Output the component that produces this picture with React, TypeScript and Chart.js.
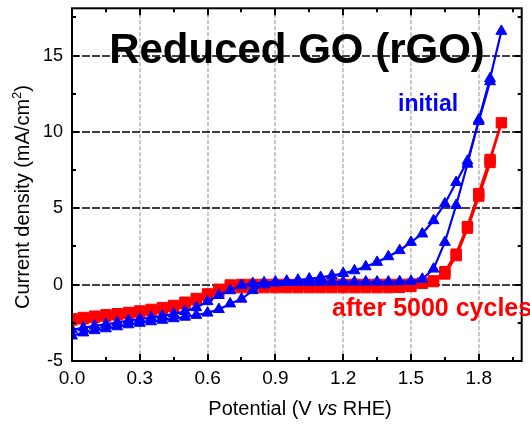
import React, { useEffect, useRef } from 'react';
import { Chart, registerables } from 'chart.js';

Chart.register(...registerables);

// Potential steps (V vs RHE) for the anodic sweep and the return sweep
const potentialSweep = [
  0.0, 0.05, 0.1, 0.15, 0.2, 0.25, 0.3, 0.35, 0.4, 0.45, 0.5, 0.55, 0.6,
  0.65, 0.7, 0.75, 0.8, 0.85, 0.9, 0.95, 1.0, 1.05, 1.1, 1.15, 1.2, 1.25,
  1.3, 1.35, 1.4, 1.45, 1.5, 1.55, 1.6, 1.65, 1.7, 1.75, 1.8, 1.85, 1.9,
];
const potentialReturn = [
  1.85, 1.8, 1.75, 1.7, 1.65, 1.6, 1.55, 1.5, 1.45, 1.4, 1.35, 1.3, 1.25,
  1.2, 1.15, 1.1, 1.05, 1.0, 0.95, 0.9, 0.85, 0.8, 0.75, 0.7, 0.65, 0.6,
  0.55, 0.5, 0.45, 0.4, 0.35, 0.3, 0.25, 0.2, 0.15, 0.1, 0.05, 0.0,
];

// Current density (mA/cm2), initial electrode
const initialSweep = [
  -3.35, -3.15, -3.0, -2.88, -2.75, -2.62, -2.52, -2.42, -2.32, -2.22, -2.12,
  -2.0, -1.85, -1.62, -1.25, -0.94, -0.38, 0.0, 0.12, 0.15, 0.16, 0.17, 0.17,
  0.18, 0.18, 0.18, 0.18, 0.18, 0.18, 0.2, 0.22, 0.37, 1.03, 2.78, 5.2, 7.9,
  10.8, 13.5, 16.6,
];
const initialReturn = [
  13.3, 10.7, 8.1, 6.7, 5.3, 4.2, 3.33, 2.78, 2.24, 1.84, 1.47, 1.18, 0.92,
  0.74, 0.59, 0.48, 0.38, 0.3, 0.24, 0.18, 0.13, 0.08, -0.05, -0.38, -0.7,
  -1.1, -1.5, -1.75, -1.92, -2.05, -2.15, -2.25, -2.35, -2.48, -2.6, -2.7,
  -2.82, -2.95,
];

// Current density (mA/cm2), after 5000 cycles
const cycledSweep = [
  -2.32, -2.24, -2.15, -2.06, -1.98, -1.9, -1.8, -1.7, -1.58, -1.45, -1.25,
  -1.0, -0.72, -0.45, -0.25, -0.2, -0.2, -0.2, -0.2, -0.2, -0.2, -0.2, -0.2,
  -0.2, -0.2, -0.2, -0.2, -0.2, -0.2, -0.18, -0.12, 0.1, 0.2, 0.85, 2.0, 3.8,
  5.97, 8.2, 10.6,
];
const cycledReturn = [
  8.0, 5.8, 3.7, 1.9, 0.7, 0.25, 0.1, 0.04, 0.02, 0.02, 0.02, 0.02, 0.02,
  0.02, 0.02, 0.02, 0.02, 0.02, 0.02, 0.02, 0.02, 0.02, 0.02, -0.02, -0.3,
  -0.6, -0.9, -1.15, -1.36, -1.5, -1.62, -1.72, -1.82, -1.9, -1.97, -2.06,
  -2.15, -2.24,
];

const xTickValues = [0, 0.3, 0.6, 0.9, 1.2, 1.5, 1.8];
const xMinorValues = [0.15, 0.45, 0.75, 1.05, 1.35, 1.65, 1.95];
const yTickValues = [-5, 0, 5, 10, 15];
const yMinorValues = [-2.5, 2.5, 7.5, 12.5, 17.5];

const X_MIN = 0;
const X_MAX = 1.99;
const Y_MIN = -5;
const Y_MAX = 18.1;

const FONT = "'Liberation Sans', Arial, sans-serif";
const BLUE = '#0000ff';
const RED = '#ff0000';

const toPoints = (xs: number[], ys: number[]) =>
  xs.map((x, i) => ({ x, y: ys[i] }));

const frameAndLabels = {
  id: 'frameAndLabels',
  beforeDatasetsDraw(chart: any) {
    const { ctx, chartArea: a, scales } = chart;
    const xs = scales.x;
    const ys = scales.y;
    ctx.save();
    // light grey dashed verticals
    ctx.strokeStyle = '#c6c6c6';
    ctx.lineWidth = 2;
    ctx.setLineDash([4, 2]);
    for (const v of xTickValues) {
      if (v <= X_MIN) continue;
      const px = Math.round(xs.getPixelForValue(v));
      ctx.beginPath();
      ctx.moveTo(px, a.top);
      ctx.lineTo(px, a.bottom);
      ctx.stroke();
    }
    // black dashed horizontals
    ctx.strokeStyle = '#000';
    ctx.lineWidth = 1.6;
    ctx.setLineDash([8, 2]);
    for (const v of yTickValues) {
      if (v <= Y_MIN) continue;
      const py = Math.round(ys.getPixelForValue(v));
      ctx.beginPath();
      ctx.moveTo(a.left, py);
      ctx.lineTo(a.right, py);
      ctx.stroke();
    }
    ctx.restore();
  },
  afterDatasetsDraw(chart: any) {
    const { ctx, chartArea: a, scales } = chart;
    const xs = scales.x;
    const ys = scales.y;
    ctx.save();
    ctx.setLineDash([]);
    ctx.strokeStyle = '#000';
    ctx.lineWidth = 2;
    ctx.strokeRect(a.left, a.top, a.right - a.left, a.bottom - a.top);

    const major = 7;
    const minor = 4;
    ctx.beginPath();
    const xMark = (v: number, len: number) => {
      const px = Math.round(xs.getPixelForValue(v));
      ctx.moveTo(px, a.bottom);
      ctx.lineTo(px, a.bottom - len);
      ctx.moveTo(px, a.top);
      ctx.lineTo(px, a.top + len);
    };
    const yMark = (v: number, len: number) => {
      const py = Math.round(ys.getPixelForValue(v));
      ctx.moveTo(a.left, py);
      ctx.lineTo(a.left + len, py);
      ctx.moveTo(a.right, py);
      ctx.lineTo(a.right - len, py);
    };
    xTickValues.forEach((v) => v > X_MIN && xMark(v, major));
    xMinorValues.forEach((v) => xMark(v, minor));
    yTickValues.forEach((v) => v > Y_MIN && yMark(v, major));
    yMinorValues.forEach((v) => yMark(v, minor));
    ctx.stroke();

    // heading and series labels
    ctx.textBaseline = 'alphabetic';
    ctx.fillStyle = '#000';
    ctx.font = `bold 42px ${FONT}`;
    ctx.textAlign = 'center';
    ctx.fillText('Reduced GO (rGO)', 297, 63);

    ctx.textAlign = 'left';
    ctx.fillStyle = BLUE;
    ctx.font = `bold 23px ${FONT}`;
    ctx.fillText('initial', 398, 111);

    ctx.fillStyle = RED;
    ctx.font = `bold 25px ${FONT}`;
    ctx.fillText('after 5000 cycles', 332, 316);
    ctx.restore();
  },
  afterDraw(chart: any) {
    const { ctx } = chart;
    ctx.save();
    ctx.fillStyle = '#000';
    ctx.textBaseline = 'alphabetic';
    ctx.textAlign = 'left';

    // x-axis title with italic "vs"
    const regular = `20px ${FONT}`;
    const italic = `italic 20px ${FONT}`;
    const parts: [string, string][] = [
      ['Potential (V ', regular],
      ['vs', italic],
      [' RHE)', regular],
    ];
    let total = 0;
    for (const [t, f] of parts) {
      ctx.font = f;
      total += ctx.measureText(t).width;
    }
    let cx = 300 - total / 2;
    for (const [t, f] of parts) {
      ctx.font = f;
      ctx.fillText(t, cx, 415);
      cx += ctx.measureText(t).width;
    }

    // y-axis title with superscript 2
    ctx.translate(29, 197);
    ctx.rotate(-Math.PI / 2);
    const main = 'Current density (mA/cm';
    const sup = '2';
    const tail = ')';
    ctx.font = regular;
    const wMain = ctx.measureText(main).width;
    const wTail = ctx.measureText(tail).width;
    ctx.font = `13px ${FONT}`;
    const wSup = ctx.measureText(sup).width;
    let tx = -(wMain + wSup + wTail) / 2;
    ctx.font = regular;
    ctx.fillText(main, tx, 0);
    tx += wMain;
    ctx.font = `13px ${FONT}`;
    ctx.fillText(sup, tx, -8);
    tx += wSup;
    ctx.font = regular;
    ctx.fillText(tail, tx, 0);
    ctx.restore();
  },
};

// keep the plot frame fixed: no extra room reserved for edge labels
const fixAxisSize = (scale: any, size: number) => {
  if (scale.isHorizontal()) scale.height = size;
  else scale.width = size;
  scale.paddingTop = 0;
  scale.paddingBottom = 0;
  scale.paddingLeft = 0;
  scale.paddingRight = 0;
};

export default function App() {
  const canvasRef = useRef<HTMLCanvasElement | null>(null);

  useEffect(() => {
    document.body.style.margin = '0';
    const canvas = canvasRef.current;
    if (!canvas) return;

    const blueStyle = {
      borderColor: BLUE,
      backgroundColor: BLUE,
      pointBackgroundColor: BLUE,
      pointBorderColor: BLUE,
      pointStyle: 'triangle',
      pointRadius: 6.3,
      pointBorderWidth: 1,
      borderWidth: 2.2,
      showLine: true,
      tension: 0,
    };
    const redStyle = {
      borderColor: RED,
      backgroundColor: RED,
      pointBackgroundColor: RED,
      pointBorderColor: RED,
      pointStyle: 'rect',
      pointRadius: 7.3,
      pointBorderWidth: 1,
      borderWidth: 2.8,
      showLine: true,
      tension: 0,
    };

    const chart = new Chart(canvas, {
      type: 'scatter',
      data: {
        datasets: [
          { label: 'initial', data: toPoints(potentialSweep, initialSweep), ...blueStyle },
          { label: 'initial (return)', data: toPoints(potentialReturn, initialReturn), ...blueStyle },
          { label: 'after 5000 cycles', data: toPoints(potentialSweep, cycledSweep), ...redStyle },
          { label: 'after 5000 cycles (return)', data: toPoints(potentialReturn, cycledReturn), ...redStyle },
        ] as any,
      },
      options: {
        animation: false,
        responsive: false,
        devicePixelRatio: 1,
        layout: { padding: { left: 0, top: 4, right: 7, bottom: 0 } },
        plugins: {
          legend: { display: false },
          tooltip: { enabled: false },
          title: { display: false },
        },
        scales: {
          x: {
            type: 'linear',
            min: X_MIN,
            max: X_MAX,
            afterBuildTicks: (scale: any) => {
              scale.ticks = xTickValues.map((value) => ({ value }));
            },
            afterFit: (scale: any) => fixAxisSize(scale, 65),
            grid: { display: false, drawTicks: false },
            border: { display: false },
            ticks: {
              color: '#000',
              padding: 6,
              maxRotation: 0,
              autoSkip: false,
              font: { family: FONT, size: 19 },
              callback: (v: any) => Number(v).toFixed(1),
            },
          },
          y: {
            type: 'linear',
            min: Y_MIN,
            max: Y_MAX,
            afterBuildTicks: (scale: any) => {
              scale.ticks = yTickValues.map((value) => ({ value }));
            },
            afterFit: (scale: any) => fixAxisSize(scale, 72),
            grid: { display: false, drawTicks: false },
            border: { display: false },
            ticks: {
              color: '#000',
              padding: 9,
              autoSkip: false,
              font: { family: FONT, size: 18 },
              callback: (v: any) => String(v),
            },
          },
        },
      },
      plugins: [frameAndLabels],
    });

    return () => chart.destroy();
  }, []);

  return (
    <div style={{ width: 530, height: 426, background: '#fff' }}>
      <canvas ref={canvasRef} width={530} height={426} />
    </div>
  );
}
